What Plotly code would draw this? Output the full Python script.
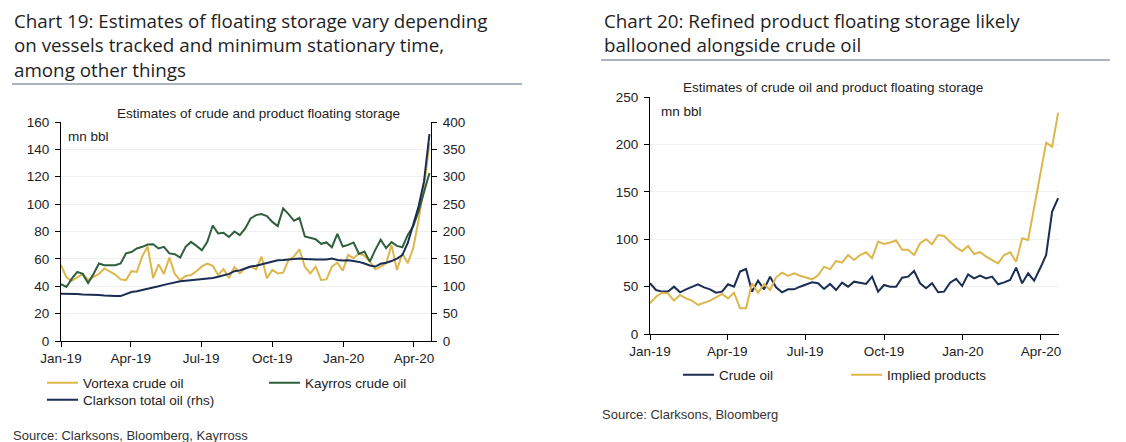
import pandas as pd
import plotly.graph_objects as go

# ---------------- data ----------------
dates = pd.date_range("2019-01-01", periods=69, freq="7D")

tick_dates = ["2019-01-01", "2019-04-01", "2019-07-01", "2019-10-01", "2020-01-01", "2020-04-01"]
tick_labels = ["Jan-19", "Apr-19", "Jul-19", "Oct-19", "Jan-20", "Apr-20"]

vortexa_crude = [55.6, 46.5, 44, 46.5, 49, 44.6, 47, 49, 53, 50.6,
                 48.5, 45, 44.5, 51, 50.5, 62, 69, 46, 56, 49,
                 61, 49, 44.5, 47.5, 48.2, 51, 54.5, 56.5, 55, 48.2,
                 52.5, 46, 54, 49.5, 53.1, 54.3, 52.4, 61.7, 45.8, 51.9,
                 49.4, 49.9, 59.2, 61.7, 67, 54.3, 49.4, 54.3, 44.6, 45,
                 54.3, 57.3, 51.4, 62.9, 60.5, 64.1, 62.2, 58, 52.4, 54.3,
                 56.8, 70.2, 51.9, 64.1, 56.8, 67.8, 88.5, 113, 144.6]

kayrros_crude = [41.5, 39.5, 45.6, 50.5, 49, 42.4, 49, 56.6, 55.4, 55.4,
                 55.4, 56.6, 64, 65, 67.6, 68.8, 70.5, 70.7, 67.6, 68.8,
                 64, 63.4, 61, 68.8, 72.4, 69.5, 66.3, 72.4, 84.4, 78.5,
                 79, 76, 80, 77.3, 82.2, 89.5, 92, 92.7, 91.2, 87,
                 84, 96.8, 92.7, 87.8, 90, 76.4, 75.6, 74.4, 71, 72,
                 68.5, 78.2, 69, 70.2, 72, 63.6, 65.3, 58, 66.6, 74,
                 67.8, 72.2, 69.5, 68.5, 77.5, 83.8, 94.8, 108, 122.7]

clarkson_total = [86.5, 86.5, 86, 86, 85, 85, 84.5, 84, 83, 82,
                  82, 82, 86, 89.5, 91, 93, 96, 98, 100, 102.5,
                  105, 107.5, 109, 110, 111, 112, 112.5, 114, 115, 117.5,
                  120, 122.5, 127.5, 129, 132.5, 136, 137.5, 140, 142.5, 144.5,
                  147.5, 148, 149, 150, 150.5, 150, 149, 149, 149, 149,
                  150.5, 148, 147, 147.5, 146, 144.5, 141.5, 138, 136, 141,
                  143, 146, 150.5, 157, 179, 212, 246, 291.5, 378]

crude_oil = [53.5, 46.4, 44.7, 44.7, 49.9, 44, 47.1, 49.9, 52.4, 49.2,
             47.1, 43.6, 44.7, 52.4, 49.9, 65.8, 68.6, 44.7, 56.3, 47.1,
             60.5, 49.2, 43.9, 47.1, 47.1, 49.9, 52.4, 54.5, 53.5, 47.5,
             52.8, 46.4, 54.2, 49.9, 55.2, 54.2, 52.8, 60.5, 44.7, 51.7,
             49.9, 49.9, 59.4, 60.5, 66.5, 53.5, 48.2, 53.5, 44, 44.7,
             54.2, 58.1, 50.6, 62.9, 58.7, 61.5, 58.7, 60.5, 52.4, 54.5,
             57, 70, 53.5, 64, 56.3, 69.3, 83.4, 129.1, 143.2]

implied_products = [32.4, 39.3, 43.6, 42.9, 35.2, 41.2, 37.6, 35.2, 30.6, 33.1,
                    35.2, 38.7, 42.2, 37.6, 43.6, 27.1, 27.1, 53.5, 43.6, 52.8,
                    46.4, 59.8, 64.7, 61.2, 64, 61.5, 59.4, 57.7, 62, 71,
                    68.2, 77, 75.2, 83.3, 78.1, 83.3, 86.2, 80, 97.4, 95,
                    96.5, 98.6, 88.8, 88.8, 83.3, 95.7, 99.9, 94.6, 104.4, 103.4,
                    97.4, 91.4, 87.5, 92.8, 84.4, 86.5, 81.6, 78.1, 74.5, 83.3,
                    86.2, 76.3, 101, 99.2, 134.3, 169.5, 201.9, 197.6, 233.5]

title_left = ["Chart 19: Estimates of floating storage vary depending",
              "on vessels tracked and minimum stationary time,",
              "among other things"]
title_right = ["Chart 20: Refined product floating storage likely",
               "ballooned alongside crude oil"]

# ---------------- styling ----------------
# the page body has a default 8px margin, so the figure is offset by 8px
OFF = 8
W, H = 1126 - OFF, 442 - OFF
GOLD = "#DDB64C"
GREEN = "#2F5F3B"
NAVY = "#1B2D52"
TXT = "#222222"
ARIAL = "Liberation Sans, Arial, sans-serif"
TICKFONT = dict(family=ARIAL, size=13.5, color=TXT)
TITLEFONT = dict(family="Open Sans, Noto Sans, sans-serif", size=18.8, color="#1E1E1E")


def px(x):
    return (x - OFF) / W


def py(y):
    return 1 - (y - OFF) / H


fig = go.Figure()

fig.add_trace(go.Scatter(x=dates, y=vortexa_crude, name="Vortexa crude oil", mode="lines",
                         line=dict(color=GOLD, width=2), xaxis="x", yaxis="y", legend="legend"))
fig.add_trace(go.Scatter(x=dates, y=kayrros_crude, name="Kayrros crude oil", mode="lines",
                         line=dict(color=GREEN, width=2), xaxis="x", yaxis="y", legend="legend2"))
fig.add_trace(go.Scatter(x=dates, y=clarkson_total, name="Clarkson total oil (rhs)", mode="lines",
                         line=dict(color=NAVY, width=2), xaxis="x", yaxis="y2", legend="legend3"))
fig.add_trace(go.Scatter(x=dates, y=crude_oil, name="Crude oil", mode="lines",
                         line=dict(color=NAVY, width=2), xaxis="x2", yaxis="y3", legend="legend4"))
fig.add_trace(go.Scatter(x=dates, y=implied_products, name="Implied products", mode="lines",
                         line=dict(color=GOLD, width=2), xaxis="x2", yaxis="y3", legend="legend5"))

axis_common = dict(showline=True, linecolor="#000000", linewidth=1, ticks="outside",
                   ticklen=5, tickcolor="#000000", tickfont=TICKFONT, zeroline=False,
                   automargin=False)

legend_common = dict(bgcolor="rgba(0,0,0,0)", font=dict(family=ARIAL, size=13.5, color=TXT),
                     xanchor="left", yanchor="middle", itemwidth=31, orientation="v",
                     tracegroupgap=0, visible=True)

fig.update_layout(
    width=W, height=H,
    margin=dict(l=0, r=0, t=0, b=0, autoexpand=False),
    paper_bgcolor="white", plot_bgcolor="white",
    showlegend=True,
    xaxis=dict(domain=[px(61), px(431)], anchor="y", type="date",
               range=["2019-01-01", "2020-04-23"], tickvals=tick_dates, ticktext=tick_labels,
               showgrid=False, **axis_common),
    yaxis=dict(domain=[py(341), py(122)], anchor="x", range=[0, 160], dtick=20,
               showgrid=True, gridcolor="#F0F0F0", gridwidth=1, ticklabelstandoff=3, **axis_common),
    yaxis2=dict(overlaying="y", side="right", anchor="x", range=[0, 400], dtick=50,
                showgrid=False, ticklabelstandoff=3, **axis_common),
    xaxis2=dict(domain=[px(650), px(1059)], anchor="y3", type="date",
                range=["2019-01-01", "2020-04-22"], tickvals=tick_dates, ticktext=tick_labels,
                showgrid=False, **axis_common),
    yaxis3=dict(domain=[py(334), py(97)], anchor="x2", range=[0, 250], dtick=50,
                showgrid=True, gridcolor="#F0F0F0", gridwidth=1, ticklabelstandoff=3, **axis_common),
    legend=dict(x=px(42), y=py(383), **legend_common),
    legend2=dict(x=px(264), y=py(383), **legend_common),
    legend3=dict(x=px(42), y=py(400), **legend_common),
    legend4=dict(x=px(678), y=py(375), **legend_common),
    legend5=dict(x=px(846), y=py(375), **legend_common),
)

annotations = [
    dict(text="<br>".join(title_left), x=px(12), y=py(45), xanchor="left",
         yanchor="middle", align="left", font=TITLEFONT),
    dict(text="<br>".join(title_right), x=px(602), y=py(33), xanchor="left",
         yanchor="middle", align="left", font=TITLEFONT),
    dict(text="Estimates of crude and product floating storage",
         x=px(258), y=py(113), xanchor="center", yanchor="middle",
         font=dict(family=ARIAL, size=13.5, color=TXT)),
    dict(text="Estimates of crude oil and product floating storage",
         x=px(833), y=py(88), xanchor="center", yanchor="middle",
         font=dict(family=ARIAL, size=13.5, color=TXT)),
    dict(text="mn bbl", x=px(66), y=py(136), xanchor="left", yanchor="middle",
         font=dict(family=ARIAL, size=13.5, color=TXT)),
    dict(text="mn bbl", x=px(659), y=py(112), xanchor="left", yanchor="middle",
         font=dict(family=ARIAL, size=13.5, color=TXT)),
    dict(text="Source: Clarksons, Bloomberg, Kayrross", x=px(11), y=py(435), xanchor="left", yanchor="middle",
         font=dict(family=ARIAL, size=13, color="#333333")),
    dict(text="Source: Clarksons, Bloomberg", x=px(600), y=py(414), xanchor="left", yanchor="middle",
         font=dict(family=ARIAL, size=13, color="#333333")),
]
for a in annotations:
    a.update(xref="paper", yref="paper", showarrow=False)
fig.update_layout(annotations=annotations)

fig.update_layout(shapes=[
    dict(type="line", xref="paper", yref="paper", x0=px(12), x1=px(522), y0=py(84), y1=py(84),
         line=dict(color="#5C6B80", width=1)),
    dict(type="line", xref="paper", yref="paper", x0=px(601), x1=px(1110), y0=py(60), y1=py(60),
         line=dict(color="#5C6B80", width=1)),
])

fig.write_html("out.html")
